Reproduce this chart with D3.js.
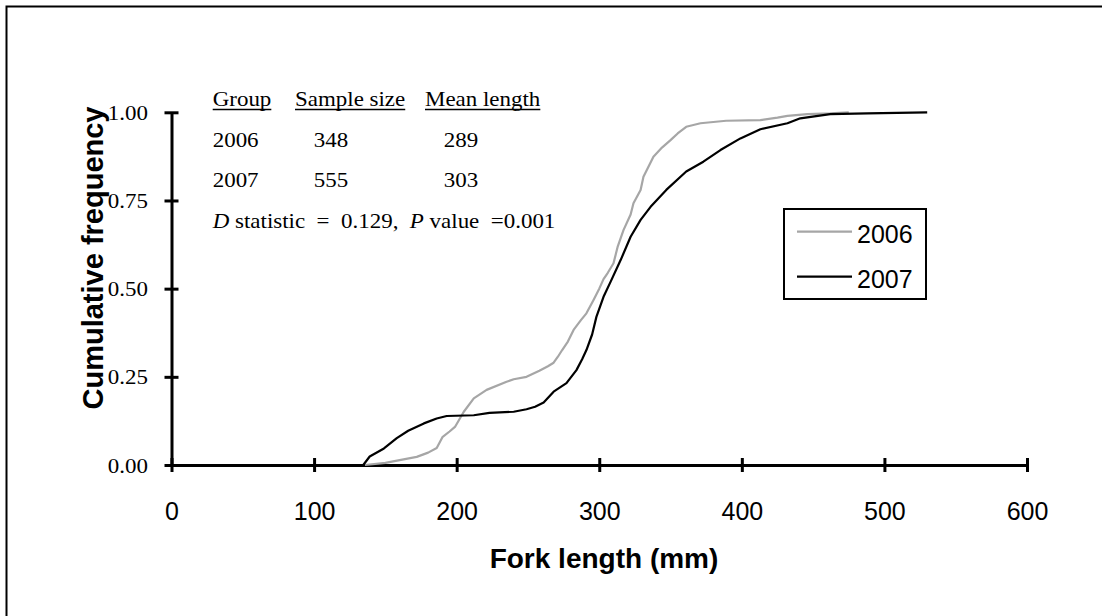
<!DOCTYPE html>
<html>
<head>
<meta charset="utf-8">
<script src="https://cdn.jsdelivr.net/npm/d3@7/dist/d3.min.js"></script>
<style>
  html, body { margin: 0; padding: 0; background: #fff; }
  svg { display: block; }
</style>
</head>
<body>
<svg id="chart" width="1102" height="616"></svg>
<script>
// Cumulative length-frequency curves (fork length, mm)
const length2006 = [135.7, 150, 160, 172, 180, 186, 190, 195, 199, 205, 212, 221, 235, 240, 249, 258, 264, 268, 271, 274, 278, 282, 287, 291, 296, 300, 303, 306, 310, 313, 317, 322, 324, 329, 331, 338, 344, 350, 355, 361, 371, 389, 413, 425, 432, 446, 462, 475];
const cumFreq2006 = [0, 0.006, 0.014, 0.023, 0.035, 0.048, 0.079, 0.095, 0.109, 0.151, 0.189, 0.213, 0.236, 0.243, 0.25, 0.267, 0.28, 0.29, 0.307, 0.326, 0.35, 0.383, 0.41, 0.43, 0.468, 0.5, 0.527, 0.545, 0.572, 0.62, 0.666, 0.71, 0.742, 0.78, 0.817, 0.874, 0.9, 0.921, 0.94, 0.959, 0.969, 0.976, 0.978, 0.985, 0.99, 0.995, 0.997, 1.0];

const length2007 = [134.5, 139, 149, 158, 166, 177, 186, 193, 212, 223, 240, 249, 255, 261, 268, 277, 284, 288, 291, 295, 298, 303, 308, 315, 322, 329, 336, 347, 361, 373, 385, 399, 413, 432, 441, 462, 488, 530];
const cumFreq2007 = [0, 0.024, 0.047, 0.076, 0.097, 0.118, 0.132, 0.139, 0.141, 0.148, 0.151, 0.158, 0.165, 0.177, 0.208, 0.232, 0.269, 0.3, 0.326, 0.37, 0.42, 0.477, 0.52, 0.581, 0.647, 0.695, 0.732, 0.78, 0.832, 0.86, 0.893, 0.926, 0.952, 0.969, 0.983, 0.995, 0.997, 1.0];

const seriesNames = ["2006", "2007"];
const sampleSizes = [348, 555];
const meanLengths = [289, 303];
const dStatistic = "0.129";
const pValue = "0.001";

const xTicks = [0, 100, 200, 300, 400, 500, 600];
const yTicks = [0, 0.25, 0.5, 0.75, 1.0];
const yTickLabels = ["0.00", "0.25", "0.50", "0.75", "1.00"];

const xTitle = "Fork length (mm)";
const yTitle = "Cumulative frequency";

// ---------------------------------------------------------------
const svg = d3.select("#chart");
const SANS = "Arial, 'Liberation Sans', sans-serif";
const SERIF = "'Times New Roman', 'Liberation Serif', serif";
const SERIF_STRETCH = 1.12;
const seriesColors = ["#a6a6a6", "#000000"];

const x = d3.scaleLinear().domain([0, 600]).range([171.5, 1027]);
const y = d3.scaleLinear().domain([0, 1]).range([465, 112.3]);

// outer frame (only the top and left edges fall inside the view)
svg.append("rect")
  .attr("x", 6.5).attr("y", 6.5)
  .attr("width", 1200).attr("height", 700)
  .attr("fill", "none").attr("stroke", "#000").attr("stroke-width", 2);

// x axis
const xAxis = svg.append("g")
  .attr("transform", `translate(0,${y(0)})`)
  .call(d3.axisBottom(x).tickValues(xTicks).tickSizeOuter(0).tickSizeInner(0).tickPadding(0));
xAxis.select(".domain").attr("stroke", "#000").attr("stroke-width", 3);
xAxis.selectAll(".tick line").attr("y1", -7).attr("y2", 7).attr("stroke", "#000").attr("stroke-width", 3);
xAxis.selectAll(".tick text")
  .attr("y", 55).attr("dy", "0")
  .attr("fill", "#000")
  .style("font-family", SANS).style("font-size", "25px");

// y axis
const yAxis = svg.append("g")
  .attr("transform", `translate(${x(0)},0)`)
  .call(d3.axisLeft(y).tickValues(yTicks).tickFormat((d, i) => yTickLabels[i])
    .tickSizeOuter(0).tickSizeInner(0).tickPadding(0));
yAxis.select(".domain").attr("stroke", "#000").attr("stroke-width", 3);
yAxis.selectAll(".tick line").attr("x1", -7).attr("x2", 7).attr("stroke", "#000").attr("stroke-width", 3);
yAxis.selectAll(".tick text")
  .attr("x", 0).attr("dy", "0")
  .attr("text-anchor", "end")
  .attr("transform", `translate(-23.5,7) scale(${SERIF_STRETCH},1)`)
  .attr("fill", "#000")
  .style("font-family", SERIF).style("font-size", "20.5px");

svg.selectAll(".domain").attr("fill", "none");

// axis titles
svg.append("text")
  .attr("x", 604).attr("y", 568)
  .attr("text-anchor", "middle")
  .style("font-family", SANS).style("font-size", "28px").style("font-weight", "bold")
  .text(xTitle);

svg.append("text")
  .attr("transform", "translate(103,258) rotate(-90)")
  .attr("text-anchor", "middle")
  .style("font-family", SANS).style("font-size", "29px").style("font-weight", "bold")
  .text(yTitle);

// cumulative frequency curves
const line = d3.line().x(d => x(d[0])).y(d => y(d[1]));
const series = [
  d3.zip(length2006, cumFreq2006),
  d3.zip(length2007, cumFreq2007)
];
svg.append("g").selectAll("path")
  .data(series)
  .join("path")
  .attr("d", line)
  .attr("fill", "none")
  .attr("stroke", (d, i) => seriesColors[i])
  .attr("stroke-width", 2.2)
  .attr("stroke-linejoin", "round");

// legend
const legend = svg.append("g");
legend.append("rect")
  .attr("x", 784).attr("y", 209).attr("width", 142).attr("height", 90)
  .attr("fill", "#fff").attr("stroke", "#000").attr("stroke-width", 2);
seriesNames.forEach((name, i) => {
  const ly = 231.7 + i * 45;
  legend.append("line")
    .attr("x1", 797).attr("x2", 852).attr("y1", ly).attr("y2", ly)
    .attr("stroke", seriesColors[i]).attr("stroke-width", 2.2);
  legend.append("text")
    .attr("x", 857).attr("y", ly + 11.5)
    .style("font-family", SANS).style("font-size", "25px")
    .text(name);
});

// summary table
const table = svg.append("g").style("font-family", SERIF).style("font-size", "20.5px");
function serifText(px, py, str, anchor) {
  return table.append("text")
    .attr("transform", `translate(${px},${py}) scale(${SERIF_STRETCH},1)`)
    .attr("text-anchor", anchor || "start")
    .text(str);
}
const headers = [["Group", 212.7], ["Sample size", 295], ["Mean length", 425]];
headers.forEach(([label, hx]) => {
  const t = serifText(hx, 106, label);
  const w = t.node().getComputedTextLength() * SERIF_STRETCH;
  table.append("line")
    .attr("x1", hx).attr("x2", hx + w)
    .attr("y1", 109.5).attr("y2", 109.5)
    .attr("stroke", "#000").attr("stroke-width", 1.4);
});
seriesNames.forEach((name, i) => {
  const ry = 146.7 + i * 40.6;
  serifText(212.7, ry, name);
  serifText(331, ry, String(sampleSizes[i]), "middle");
  serifText(461, ry, String(meanLengths[i]), "middle");
});

const stat = table.append("text")
  .attr("transform", `translate(212.7,228.3) scale(${SERIF_STRETCH},1)`)
  .attr("xml:space", "preserve");
stat.append("tspan").style("font-style", "italic").text("D");
stat.append("tspan").text(" statistic  =  " + dStatistic + ",  ");
stat.append("tspan").style("font-style", "italic").text("P");
stat.append("tspan").text(" value  =" + pValue);
</script>
</body>
</html>
